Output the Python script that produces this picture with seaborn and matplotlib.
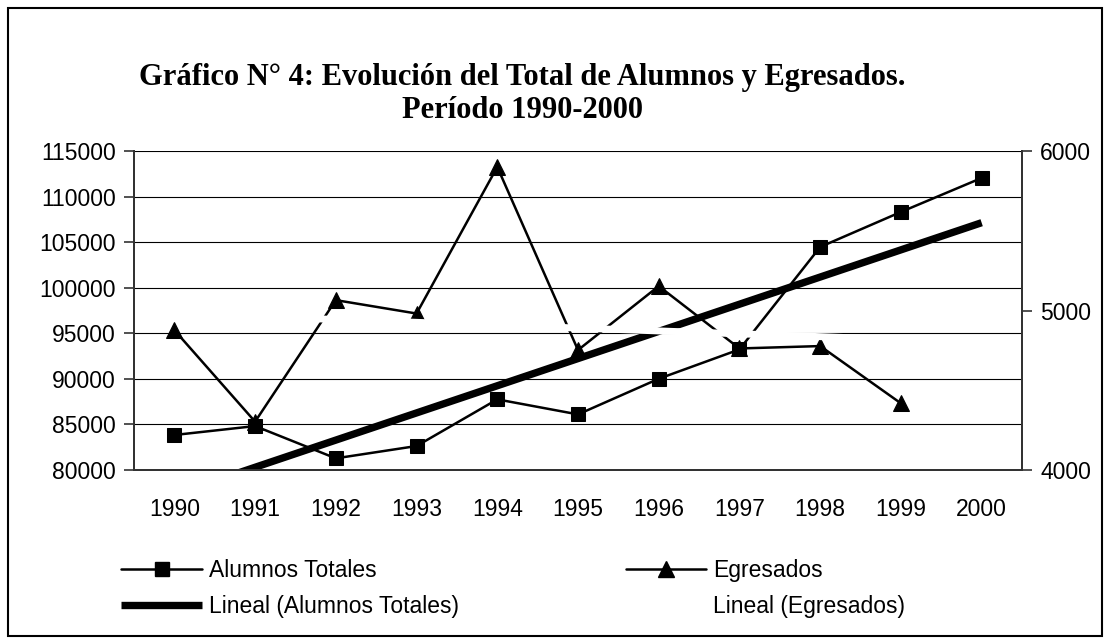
import numpy as np
import pandas as pd
import matplotlib
matplotlib.use("Agg")
import matplotlib.pyplot as plt
from matplotlib.lines import Line2D
from matplotlib.patches import Rectangle
import seaborn as sns

# Datos del gráfico
anios = [1990, 1991, 1992, 1993, 1994, 1995, 1996, 1997, 1998, 1999, 2000]
alumnos_totales = [83840, 84820, 81280, 82630, 87750, 86100, 90010, 93230, 104470, 108310, 112040]
egresados = [4877, 4303, 5065, 4981, 5900, 4752, 5153, 4762, 4777, 4418, np.nan]

titulo_1 = "Gráfico N° 4: Evolución del Total de Alumnos y Egresados."
titulo_2 = "Período 1990-2000"

sns.set_theme(style="white")
plt.rcParams['font.family'] = ['Liberation Sans', 'DejaVu Sans']
plt.rcParams.update({'text.color': 'black', 'xtick.color': 'black',
                     'ytick.color': 'black', 'axes.labelcolor': 'black'})

df = pd.DataFrame({'anio': anios, 'alumnos': alumnos_totales, 'egresados': egresados})
df['pos'] = np.arange(len(df))

# Líneas de tendencia lineales (como en Excel)
coef_a = np.polyfit(df['pos'], df['alumnos'], 1)
df['tend_alumnos'] = np.polyval(coef_a, df['pos'])
df_e = df.dropna(subset=['egresados'])
coef_e = np.polyfit(df_e['pos'], df_e['egresados'], 1)
df_e = df_e.assign(tend_egresados=np.polyval(coef_e, df_e['pos']))

W, H = 1110, 644
fig = plt.figure(figsize=(W / 100, H / 100), dpi=100)
fig.patch.set_facecolor('white')
ax = fig.add_axes([134 / W, 1 - 470 / H, 888 / W, 319 / H])
ax2 = ax.twinx()

fs = 16.5
# Serie principal (eje izquierdo)
sns.lineplot(data=df, x='pos', y='alumnos', ax=ax, color='black', linewidth=1.8,
             marker='s', markersize=9.5, markeredgecolor='black', zorder=3)
sns.lineplot(data=df, x='pos', y='tend_alumnos', ax=ax, color='black', linewidth=5.3,
             zorder=4, solid_capstyle='butt')
# Serie secundaria (eje derecho)
sns.lineplot(data=df_e, x='pos', y='egresados', ax=ax2, color='black', linewidth=1.8,
             marker='^', markersize=11, markeredgecolor='black', zorder=3)
sns.lineplot(data=df_e, x='pos', y='tend_egresados', ax=ax2, color='white', linewidth=5.0,
             zorder=4, solid_capstyle='butt')

ax.set_xlim(-0.5, len(anios) - 0.5)
ax.set_ylim(80000, 115000)
ax.set_yticks(np.arange(80000, 115001, 5000))
ax.set_yticklabels([str(v) for v in range(80000, 115001, 5000)], fontsize=fs)
ax.set_xticks(df['pos'])
ax.set_xticklabels([str(a) for a in anios], fontsize=fs)
ax.set_xticks(np.arange(-0.5, len(anios), 1), minor=True)
ax.tick_params(axis='x', which='major', length=0, pad=20)
ax.tick_params(axis='x', which='minor', length=7, width=1.2, color='#333333', direction='out')
ax.tick_params(axis='y', length=7, width=1.2, color='#333333', direction='out', pad=6)
ax.grid(axis='y', color='black', linewidth=0.8)
ax.set_axisbelow(True)
ax.set_xlabel("")
ax.set_ylabel("")

ax2.set_ylim(4000, 6000)
ax2.set_yticks([4000, 5000, 6000])
ax2.set_yticklabels(['4000', '5000', '6000'], fontsize=fs)
ax2.tick_params(axis='y', length=7, width=1.2, color='#333333', direction='out', pad=6)
ax2.set_ylabel("")
ax2.grid(False)

for a in (ax, ax2):
    a.spines['top'].set_visible(False)
    for s in ('left', 'right', 'bottom'):
        a.spines[s].set_color('#333333')
        a.spines[s].set_linewidth(1.4)

# Título
fig.text(522 / W, 1 - 78 / H, titulo_1, ha='center', va='center', fontsize=22,
         fontweight='bold', color='black', family=['Liberation Serif', 'DejaVu Serif'])
fig.text(522 / W, 1 - 110 / H, titulo_2, ha='center', va='center', fontsize=22,
         fontweight='bold', color='black', family=['Liberation Serif', 'DejaVu Serif'])

# Leyenda
handles = [
    Line2D([], [], color='black', linewidth=1.8, marker='s', markersize=9.5),
    Line2D([], [], color='black', linewidth=5.3, solid_capstyle='butt'),
    Line2D([], [], color='black', linewidth=1.8, marker='^', markersize=11),
    Line2D([], [], color='white', linewidth=5.0, solid_capstyle='butt'),
]
labels = ["Alumnos Totales", "Lineal (Alumnos Totales)", "Egresados", "Lineal (Egresados)"]
fig.legend(handles, labels, ncol=2, loc='upper left', bbox_to_anchor=(110 / W, 1 - 548 / H),
           frameon=False, fontsize=fs, handlelength=3.5, handletextpad=0.3,
           columnspacing=7.3, labelspacing=0.55, borderpad=0)

# Marco exterior
fig.patches.append(Rectangle((8 / W, 8 / H), 1 - 16 / W, 1 - 16 / H, transform=fig.transFigure,
                             fill=False, edgecolor='black', linewidth=1.5))

fig.savefig("out.png", dpi=100)
